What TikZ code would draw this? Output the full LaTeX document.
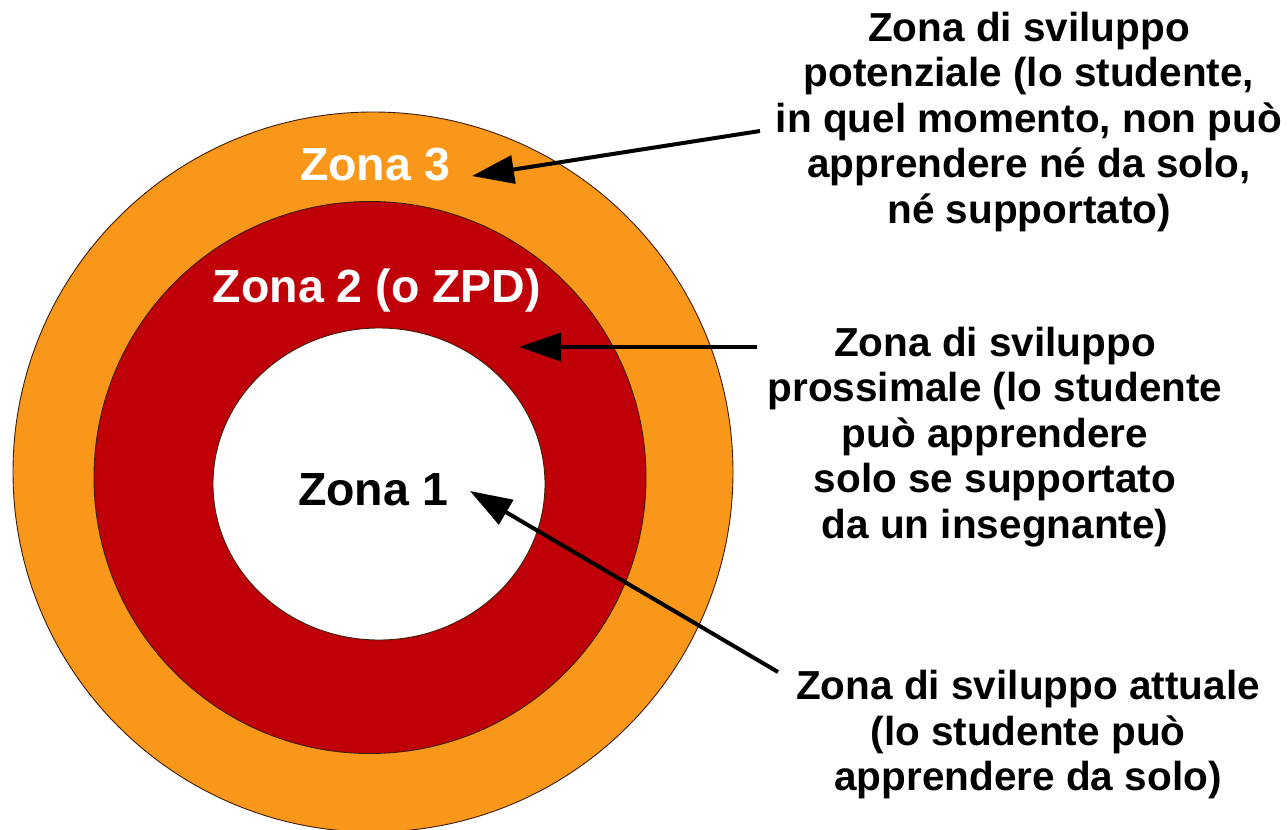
\documentclass[tikz,border=0pt]{standalone}
\usepackage{fontspec}
\setmainfont{Liberation Sans}
\usetikzlibrary{arrows.meta}
\definecolor{zorange}{RGB}{249,151,26}
\definecolor{zred}{RGB}{192,0,8}
\definecolor{zedge}{RGB}{60,30,10}
\tikzset{
  ring/.style={draw=zedge, line width=0.9pt},
  zlabel/.style={font=\bfseries\fontsize{46.5}{52}\selectfont, inner sep=0pt},
  desc/.style={font=\bfseries\fontsize{40.5}{45.5}\selectfont, align=center, inner sep=0pt, text=black},
  pointer/.style={line width=4pt, -{Triangle[length=42pt,width=28pt]}}
}
\begin{document}
\begin{tikzpicture}[x=1pt,y=-1pt]
\useasboundingbox (0,0) rectangle (1288,830);
\fill[white] (0,0) rectangle (1288,830);
\begin{scope}
\clip (0,0) rectangle (1288,830);
\draw[ring, fill=zorange] (373,472) circle[radius=360];
\draw[ring, fill=zred] (370,477.5) circle[radius=276];
\draw[ring, fill=white] (379,484) ellipse[x radius=166, y radius=156];
\end{scope}
\node[zlabel, text=white] (z3) at (375,165) {Zona 3};
\node[zlabel, text=white] (z2) at (377,290) {Zona 2 (o ZPD)};
\node[zlabel, text=black] (z1) at (373,490) {Zona 1};
\node[desc] (d3) at (1029,122) {Zona di sviluppo\\potenziale (lo studente,\\in quel momento, non può\\apprendere né da solo,\\né supportato)};
\node[desc] (d2) at (995,437) {Zona di sviluppo\\prossimale (lo studente\\può apprendere\\solo se supportato\\da un insegnante)};
\node[desc] (d1) at (1028,735) {Zona di sviluppo attuale\\(lo studente può\\apprendere da solo)};
\coordinate (s3) at (760,131);
\coordinate (t3) at (472,176);
\coordinate (s2) at (757,347);
\coordinate (t2) at (519,347);
\coordinate (s1) at (778,672);
\coordinate (t1) at (470,491);
\draw[pointer] (s3) -- (t3);
\draw[pointer] (s2) -- (t2);
\draw[pointer] (s1) -- (t1);
\end{tikzpicture}
\end{document}
